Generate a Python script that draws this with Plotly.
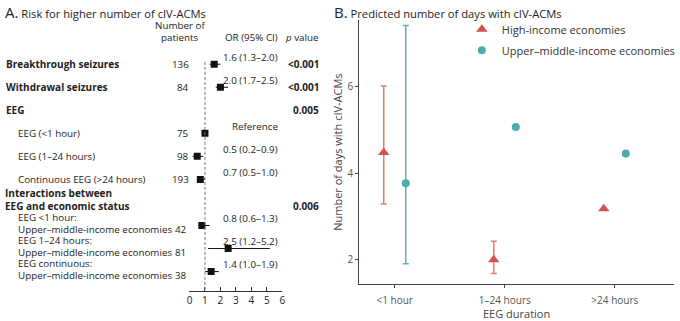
import plotly.graph_objects as go

# ---------------- Panel A data ----------------
labels_a = ["Breakthrough seizures", "Withdrawal seizures", "EEG", "EEG (<1 hour)",
            "EEG (1–24 hours)", "Continuous EEG (>24 hours)"]
label_bold = [True, True, True, False, False, False]
label_rows = [0, 1, 2, 3, 4, 5]
patients = ["136", "84", "", "75", "98", "193"]

inter_labels = ["EEG <1 hour:", "EEG 1–24 hours:", "EEG continuous:"]
inter_sub = "Upper–middle-income economies"
inter_patients = ["42", "81", "38"]
inter_rows = [7, 8, 9]

or_rows = [0, 1, 3, 4, 5, 7, 8, 9]
or_text = ["1.6 (1.3–2.0)", "2.0 (1.7–2.5)", "Reference", "0.5 (0.2–0.9)",
           "0.7 (0.5–1.0)", "0.8 (0.6–1.3)", "2.5 (1.2–5.2)", "1.4 (1.0–1.9)"]
pv_rows = [0, 1, 2, 6.14]
pv_text = ["<0.001", "<0.001", "0.005", "0.006"]

sq_rows = [0, 1, 3, 4, 5, 7, 8, 9]
sq_or = [1.6, 2.0, 1.0, 0.5, 0.7, 0.8, 2.5, 1.4]
sq_lo = [1.3, 1.7, 1.0, 0.2, 0.5, 0.6, 1.2, 1.0]
sq_hi = [2.0, 2.5, 1.0, 0.9, 1.0, 1.3, 5.2, 1.9]
or_ticks = [0, 1, 2, 3, 4, 5, 6]

# ---------------- Panel B data ----------------
durations = ["<1 hour", "1–24 hours", ">24 hours"]
high_val = [4.48, 2.0, 3.18]
high_hi = [6.02, 2.43, None]
high_lo = [3.29, 1.68, None]
um_val = [3.77, 5.07, 4.46]
um_hi = [7.42, None, None]
um_lo = [1.91, None, None]
b_yticks = [2, 4, 6]

RED = "#D4524C"
RED_L = "#DE7D77"
TEAL = "#4CAAB0"
TEAL_L = "#5DB3B8"
TXT = "#222222"
FONT = "Open Sans"
FS = 9.8
FSB = 10

fig = go.Figure()

fig.add_trace(go.Scatter(
    x=sq_or, y=sq_rows, mode="markers",
    marker=dict(symbol="square", size=7, color="#111111"),
    error_x=dict(type="data", symmetric=False,
                 array=[h - o for h, o in zip(sq_hi, sq_or)],
                 arrayminus=[o - l for o, l in zip(sq_or, sq_lo)],
                 width=0, thickness=1, color="#111111"),
    showlegend=False, xaxis="x", yaxis="y", hoverinfo="skip"))

dodge = 0.1
xs = list(range(len(durations)))


def err(vals, hi, lo):
    up = [None if h is None else h - v for v, h in zip(vals, hi)]
    dn = [None if l is None else v - l for v, l in zip(vals, lo)]
    return up, dn


up, dn = err(high_val, high_hi, high_lo)
fig.add_trace(go.Scatter(
    x=[x - dodge for x in xs], y=high_val, mode="markers", name="High-income economies",
    legendgroup="hi",
    marker=dict(symbol="triangle-up", size=10, color=RED),
    error_y=dict(type="data", symmetric=False, array=up, arrayminus=dn,
                 width=3, thickness=1.5, color=RED_L),
    xaxis="x2", yaxis="y2", hoverinfo="skip"))
up, dn = err(um_val, um_hi, um_lo)
fig.add_trace(go.Scatter(
    x=[x + dodge for x in xs], y=um_val, mode="markers", name="Upper–middle-income economies",
    legendgroup="um",
    marker=dict(symbol="circle", size=8, color=TEAL),
    error_y=dict(type="data", symmetric=False, array=up, arrayminus=dn,
                 width=3, thickness=1.5, color=TEAL_L),
    xaxis="x2", yaxis="y2", hoverinfo="skip"))

W, H = 680, 321
px = lambda v: v / W

annotations = []


def ann(text, x, y, xanchor="left", size=FS, yref="y", color=TXT, **kw):
    annotations.append(dict(text=text, x=x, y=y, xref="paper", yref=yref,
                            xanchor=xanchor, yanchor="middle", showarrow=False,
                            borderpad=0, borderwidth=0,
                            font=dict(family=FONT, size=size, color=color), **kw))


ann("<span style='font-size:15px'>A.</span> Risk for higher number of cIV-ACMs",
    px(2), 1 - 12 / H, yref="paper", size=11.2)
ann("<span style='font-size:15px'>B.</span> Predicted number of days with cIV-ACMs",
    px(335), 1 - 12 / H, yref="paper", size=11.2)

ann("Number of", px(179), -1.69, xanchor="center")
ann("patients", px(179), -1.157, xanchor="center")
ann("OR (95% CI)", px(279), -1.157, xanchor="right")
ann("<i>p</i> value", px(320), -1.157, xanchor="right")

for lab, b, r, n in zip(labels_a, label_bold, label_rows, patients):
    ann(f"<b>{lab}</b>" if b else lab, px(3 if b else 15), r, size=FSB if b else FS)
    if n:
        ann(n, px(188), r, xanchor="right")

ann("<b>Interactions between</b>", px(2), 5.6, size=FSB)
ann("<b>EEG and economic status</b>", px(2), 6.14, size=FSB)
for lab, n, r in zip(inter_labels, inter_patients, inter_rows):
    ann(lab, px(15), r - 0.34)
    ann(inter_sub, px(15), r + 0.17)
    ann(n, px(174), r + 0.17)

for t, r in zip(or_text, or_rows):
    ann(t, px(279), r - 0.3, xanchor="right")
for t, r in zip(pv_text, pv_rows):
    ann(f"<b>{t}</b>", px(320), r, xanchor="right", size=FSB)

shapes = [dict(type="line", xref="x", yref="y", x0=1, x1=1, y0=-0.1, y1=9.857,
               line=dict(color="#777777", width=1, dash="3px,2px"))]

fig.update_layout(
    width=W, height=H, margin=dict(l=0, r=0, t=0, b=0),
    paper_bgcolor="white", plot_bgcolor="white",
    font=dict(family=FONT, size=10, color=TXT),
    annotations=annotations, shapes=shapes,
    xaxis=dict(domain=[px(189), px(283)], range=[0, 6], tickvals=or_ticks,
               showgrid=False, zeroline=False, showline=True, linecolor="#333333",
               linewidth=1, ticks="inside", ticklen=4, tickcolor="#333333",
               tickfont=dict(size=10, color=TXT), anchor="y"),
    yaxis=dict(domain=[26 / H, 1], range=[9.857, -2.786], visible=False, anchor="x"),
    xaxis2=dict(domain=[px(361), 1], range=[-0.323, 2.538], tickvals=xs, ticktext=durations,
                showgrid=False, zeroline=False, showline=True, linecolor="#444444",
                linewidth=1, ticks="outside", ticklen=3, tickcolor="#444444",
                tickfont=dict(size=10, color="#555555"), ticklabelstandoff=4,
                title=dict(text="EEG duration", font=dict(size=11, color="#444444"), standoff=6),
                anchor="y2"),
    yaxis2=dict(domain=[33 / H, 1 - 20 / H], range=[1.429, 7.554], tickvals=b_yticks,
                showgrid=False, zeroline=False, showline=True, linecolor="#444444",
                linewidth=1, ticks="outside", ticklen=3, tickcolor="#444444",
                tickfont=dict(size=10, color="#555555"),
                title=dict(text="Number of days with cIV-ACMs",
                           font=dict(size=11, color="#444444"), standoff=2),
                anchor="x2"),
    legend=dict(x=px(465), y=1 - 15 / H, xanchor="left", yanchor="top",
                font=dict(size=11, color="#333333"), bgcolor="rgba(0,0,0,0)",
                itemwidth=30, tracegroupgap=2),
)

fig.write_html("out.html", config={"displayModeBar": False},
               post_script="document.body.style.margin='0';document.body.style.overflow='hidden';")
